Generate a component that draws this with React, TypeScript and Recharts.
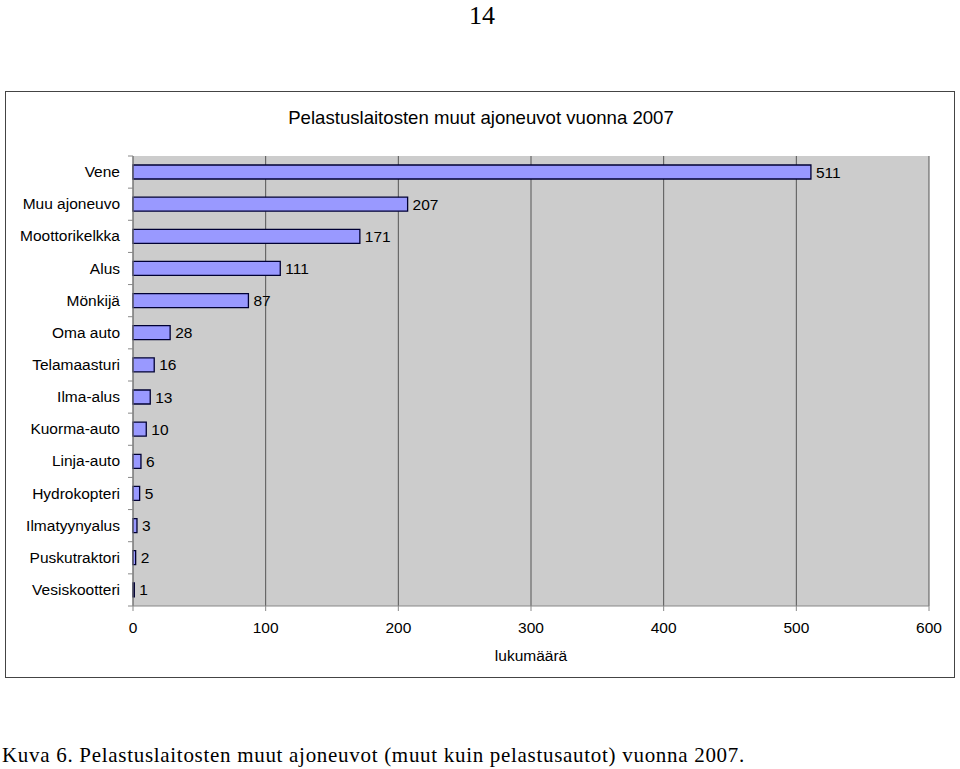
import { Bar, BarChart, CartesianGrid, LabelList, XAxis, YAxis } from "recharts";

const categories = [
  "Vene",
  "Muu ajoneuvo",
  "Moottorikelkka",
  "Alus",
  "Mönkijä",
  "Oma auto",
  "Telamaasturi",
  "Ilma-alus",
  "Kuorma-auto",
  "Linja-auto",
  "Hydrokopteri",
  "Ilmatyynyalus",
  "Puskutraktori",
  "Vesiskootteri",
];
const counts = [511, 207, 171, 111, 87, 28, 16, 13, 10, 6, 5, 3, 2, 1];
const xTicks = [0, 100, 200, 300, 400, 500, 600];

const data = categories.map((name, i) => ({ name, count: counts[i] }));

const FONT = "'Liberation Sans', Arial, sans-serif";
const SERIF = "'Liberation Serif', 'Times New Roman', serif";
const PLOT_TOP = 65;
const PLOT_HEIGHT = 450;
const step = PLOT_HEIGHT / categories.length;

// y-axis tick with the tick mark on the band boundary, Excel style
function CategoryTick(props: any) {
  const { x, y, payload, index } = props;
  return (
    <g>
      <line x1={x - 5} x2={x} y1={y - step / 2} y2={y - step / 2} stroke="#888" />
      {index === categories.length - 1 && (
        <line x1={x - 5} x2={x} y1={y + step / 2} y2={y + step / 2} stroke="#888" />
      )}
      <text x={x - 13} y={y} dy={5} textAnchor="end" fill="#000" fontSize={15.5} fontFamily={FONT}>
        {payload.value}
      </text>
    </g>
  );
}

export default function App() {
  return (
    <div style={{ position: "absolute", left: 0, top: 0, width: 960, height: 769, background: "#fff" }}>
      <svg width={960} height={34} style={{ position: "absolute", left: 0, top: 0 }}>
        <text x={482} y={24} textAnchor="middle" fontFamily={SERIF} fontSize={26} fill="#000">
          14
        </text>
      </svg>

      <div
        style={{
          position: "absolute",
          left: 5,
          top: 91,
          width: 950,
          height: 587,
          border: "1px solid #444",
          boxSizing: "border-box",
        }}
      >
        <div
          style={{
            position: "absolute",
            top: 15,
            left: 0,
            width: 950,
            textAlign: "center",
            fontFamily: FONT,
            fontSize: 18.6,
          }}
        >
          Pelastuslaitosten muut ajoneuvot vuonna 2007
        </div>
        <BarChart
          layout="vertical"
          width={948}
          height={585}
          data={data}
          margin={{ top: PLOT_TOP, right: 24, bottom: 0, left: 0 }}
          style={{ position: "absolute", left: -1, top: -1 }}
        >
          <CartesianGrid
            horizontal={false}
            stroke="#555"
            fill="#cccccc"
            fillOpacity={1}
          />
          <XAxis
            type="number"
            domain={[0, 600]}
            ticks={xTicks}
            height={70}
            axisLine={{ stroke: "#888" }}
            tickLine={{ stroke: "#888" }}
            tickSize={5}
            tickMargin={11}
            tick={{ fill: "#000", fontSize: 15.5, fontFamily: FONT }}
            label={{
              value: "lukumäärä",
              position: "insideBottom",
              offset: 15,
              fill: "#000",
              fontSize: 15.5,
              fontFamily: FONT,
            }}
          />
          <YAxis
            type="category"
            dataKey="name"
            width={128}
            axisLine={{ stroke: "#888" }}
            tickLine={false}
            tickSize={0}
            tickMargin={0}
            tick={<CategoryTick />}
            interval={0}
          />
          <Bar
            dataKey="count"
            fill="#9999ff"
            stroke="#000033"
            strokeWidth={1.3}
            barSize={14}
            isAnimationActive={false}
          >
            <LabelList
              dataKey="count"
              position="right"
              offset={5}
              fill="#000"
              fontSize={15.5}
              fontFamily={FONT}
            />
          </Bar>
        </BarChart>
      </div>

      <div
        style={{
          position: "absolute",
          left: 2,
          top: 743,
          fontFamily: SERIF,
          fontSize: 21,
          letterSpacing: 0.7,
          whiteSpace: "nowrap",
        }}
      >
        Kuva 6. Pelastuslaitosten muut ajoneuvot (muut kuin pelastusautot) vuonna 2007.
      </div>
    </div>
  );
}
